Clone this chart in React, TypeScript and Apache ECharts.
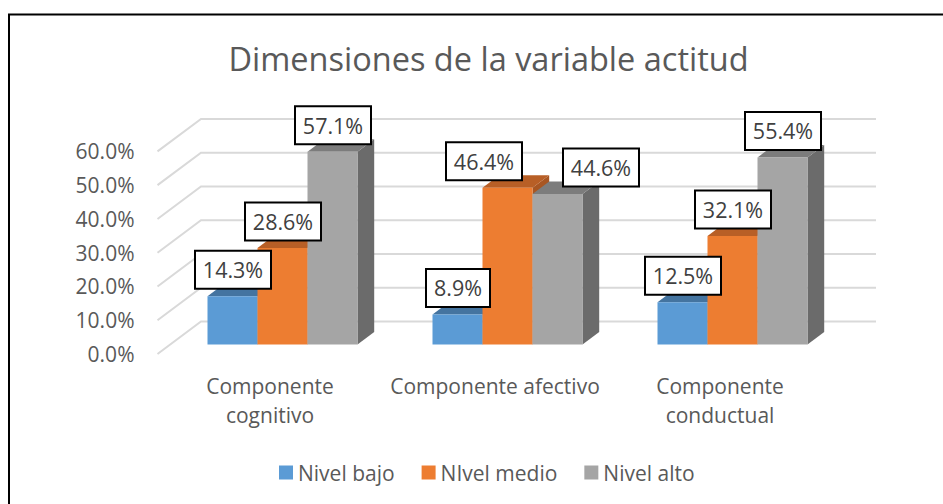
import React, { useEffect, useRef } from "react";
import * as echarts from "echarts";

const titleText = "Dimensiones de la variable actitud";
const categories = ["Componente\ncognitivo", "Componente afectivo", "Componente\nconductual"];
const nivelBajo = [14.3, 8.9, 12.5];
const nivelMedio = [28.6, 46.4, 32.1];
const nivelAlto = [57.1, 44.6, 55.4];
const seriesNames = ["Nivel bajo", "NIvel medio", "Nivel alto"];
const gridTicks = [0, 10, 20, 30, 40, 50, 60];
const font = "'Open Sans'";
const textColor = "#595959";

const frontColors = ["#5B9BD5", "#ED7D31", "#A5A5A5"];
const topColors = ["#4474A0", "#B85F26", "#7C7C7C"];
const sideColors = ["#3E6A92", "#A85622", "#6B6B6B"];

const BAR_W = 50;
const BAR_DX = 12.5; // front face of a bar, seen from the floor's front edge
const BAR_DY = -9.5;
const DEPTH_X = 16.7; // bar depth
const DEPTH_Y = -12.5;
const WALL_X = 43.5; // floor depth
const WALL_Y = -32.5;

// Horizontal nudges of the two labels the reference moved off their bars, [series][category].
const labelNudgeX = [
  [0, 0, 0],
  [0, -24, 0],
  [0, 43, 0],
];

function wallItem(params: any, api: any) {
  const tick = api.value(0);
  const cs = params.coordSys;
  const y = api.coord([0, tick])[1];
  const left = cs.x;
  const right = cs.x + cs.width;
  return {
    type: "polyline",
    shape: {
      points: [
        [left, y],
        [left + WALL_X, y + WALL_Y],
        [right + WALL_X, y + WALL_Y],
      ],
    },
    style: { stroke: "#D9D9D9", lineWidth: 2, fill: "none" },
  };
}

function barItem(index: number) {
  return (_params: any, api: any) => {
    const cat = api.value(0);
    const val = api.value(1);
    const base = api.coord([cat, 0]);
    const top = api.coord([cat, val]);
    const x0 = base[0] + BAR_DX + (index - 1.5) * BAR_W;
    const x1 = x0 + BAR_W;
    const yb = base[1] + BAR_DY;
    const yt = top[1] + BAR_DY;
    return {
      type: "group",
      children: [
        {
          type: "polygon",
          shape: { points: [[x1, yb], [x1 + DEPTH_X, yb + DEPTH_Y], [x1 + DEPTH_X, yt + DEPTH_Y], [x1, yt]] },
          style: { fill: sideColors[index] },
        },
        {
          type: "polygon",
          shape: { points: [[x0, yt], [x0 + DEPTH_X, yt + DEPTH_Y], [x1 + DEPTH_X, yt + DEPTH_Y], [x1, yt]] },
          style: { fill: topColors[index] },
        },
        {
          type: "rect",
          shape: { x: x0, y: yt, width: BAR_W, height: yb - yt },
          style: { fill: frontColors[index] },
        },
      ],
    };
  };
}

function labelItem(index: number) {
  return (_params: any, api: any) => {
    const cat = api.value(0);
    const val = api.value(1);
    const base = api.coord([cat, 0]);
    const top = api.coord([cat, val]);
    const cx = base[0] + BAR_DX + (index - 1) * BAR_W + 0.5 + labelNudgeX[index][cat];
    const cy = top[1] + BAR_DY - 26.5;
    const w = val < 10 ? 64 : 76;
    return {
      type: "group",
      children: [
        {
          type: "rect",
          shape: { x: cx - w / 2, y: cy - 19, width: w, height: 38 },
          style: { fill: "#FFFFFF", stroke: "#000000", lineWidth: 2 },
        },
        {
          type: "text",
          style: {
            x: cx,
            y: cy,
            text: val.toFixed(1) + "%",
            fill: "#404040",
            font: `21.5px ${font}`,
            align: "center",
            verticalAlign: "middle",
          },
        },
      ],
    };
  };
}

const allValues = [nivelBajo, nivelMedio, nivelAlto];

export default function App() {
  const ref = useRef<HTMLDivElement>(null);
  useEffect(() => {
    const chart = echarts.init(ref.current!, undefined, { renderer: "svg", width: 943, height: 504 });
    const barSeries = allValues.map((vals, i) => ({
      type: "custom",
      name: seriesNames[i],
      coordinateSystem: "cartesian2d",
      clip: false,
      z: 3 + i,
      itemStyle: { color: frontColors[i] },
      encode: { x: 0, y: 1 },
      renderItem: barItem(i),
      data: vals.map((v, c) => [c, v]),
    }));
    const labelSeries = allValues.map((vals, i) => ({
      type: "custom",
      coordinateSystem: "cartesian2d",
      clip: false,
      z: 10,
      encode: { x: 0, y: 1 },
      renderItem: labelItem(i),
      data: vals.map((v, c) => [c, v]),
    }));
    chart.setOption({
      animation: false,
      backgroundColor: "#FFFFFF",
      textStyle: { fontFamily: font },
      title: {
        text: titleText,
        left: 483.5,
        top: 37,
        textAlign: "center",
        textStyle: { color: textColor, fontSize: 32.5, fontWeight: "normal", fontFamily: font },
      },
      legend: {
        data: seriesNames,
        left: 274,
        top: 457,
        itemWidth: 14,
        itemHeight: 14,
        itemGap: 27,
        icon: "rect",
        textStyle: { color: textColor, fontSize: 21, fontFamily: font },
      },
      grid: { left: 157.5, right: 110.5, top: 151.4, bottom: 150 },
      xAxis: {
        type: "category",
        data: categories,
        axisLine: { show: false },
        axisTick: { show: false },
        axisLabel: { color: textColor, fontSize: 21, fontFamily: font, lineHeight: 29.5, margin: 17, interval: 0 },
      },
      yAxis: {
        type: "value",
        min: 0,
        max: 60,
        interval: 10,
        axisLine: { show: false },
        axisTick: { show: false },
        splitLine: { show: false },
        axisLabel: {
          color: textColor,
          fontSize: 21,
          fontFamily: font,
          margin: 23,
          padding: [0, 0, 6, 0],
          formatter: (v: number) => v.toFixed(1) + "%",
        },
      },
      graphic: [
        {
          type: "polyline",
          silent: true,
          shape: { points: [[9, 504], [9, 14.5], [943, 14.5]] },
          style: { stroke: "#000000", lineWidth: 2, fill: "none" },
        },
      ],
      series: [
        {
          type: "custom",
          coordinateSystem: "cartesian2d",
          clip: false,
          silent: true,
          z: 1,
          encode: { y: 0 },
          renderItem: wallItem,
          data: gridTicks.map((t) => [t]),
        },
        ...barSeries,
        ...labelSeries,
      ],
    });
    return () => chart.dispose();
  }, []);
  return <div ref={ref} style={{ position: "absolute", left: 0, top: 0, width: 943, height: 504 }} />;
}
